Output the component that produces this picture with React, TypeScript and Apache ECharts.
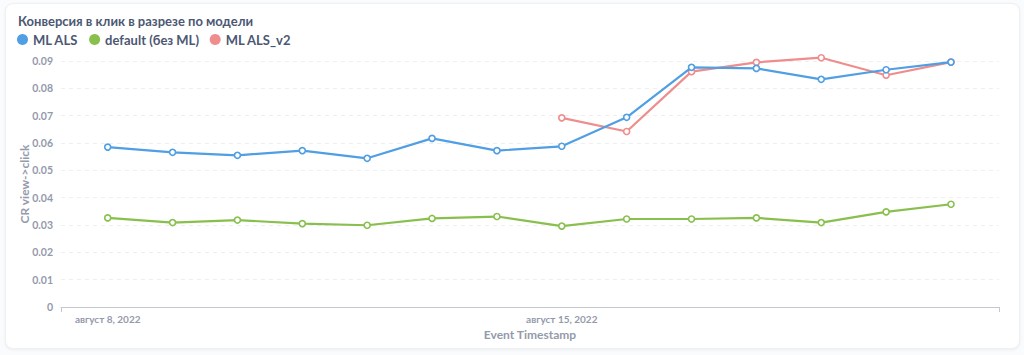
import React, { useEffect, useRef } from "react";
import * as echarts from "echarts";

const dates = [
  "2022-08-08", "2022-08-09", "2022-08-10", "2022-08-11", "2022-08-12", "2022-08-13", "2022-08-14",
  "2022-08-15", "2022-08-16", "2022-08-17", "2022-08-18", "2022-08-19", "2022-08-20", "2022-08-21",
];
const mlAls = [0.0585, 0.0566, 0.0555, 0.0572, 0.0544, 0.0617, 0.0572, 0.0588, 0.0694, 0.0877, 0.0873, 0.0833, 0.0868, 0.0896];
const defaultNoMl = [0.0326, 0.0309, 0.0318, 0.0305, 0.0299, 0.0324, 0.0331, 0.0296, 0.0322, 0.0322, 0.0326, 0.0309, 0.0348, 0.0376];
const mlAlsV2 = [null, null, null, null, null, null, null, 0.0692, 0.0642, 0.0861, 0.0895, 0.0912, 0.0848, 0.0896];
const seriesNames = ["ML ALS", "default (без ML)", "ML ALS_v2"];
const xLabelDates = ["2022-08-08", "2022-08-15"];
const yTicks = [0, 0.01, 0.02, 0.03, 0.04, 0.05, 0.06, 0.07, 0.08, 0.09];
const monthsRu = ["январь", "февраль", "март", "апрель", "май", "июнь", "июль", "август", "сентябрь", "октябрь", "ноябрь", "декабрь"];

const DAY = 86400000;
const ts = (s: string) => {
  const [y, m, d] = s.split("-").map(Number);
  return Date.UTC(y, m - 1, d);
};

export default function App() {
  const ref = useRef<HTMLDivElement>(null);
  useEffect(() => {
    document.body.style.margin = "0";
    if (!ref.current) return;
    const chart = echarts.init(ref.current, undefined, { renderer: "svg" });
    const xMin = ts(dates[0]) - 0.72 * DAY;
    const xMax = ts(dates[dates.length - 1]) + 0.74 * DAY;
    const font = "Lato, 'Noto Sans', sans-serif";
    const mk = (vals: (number | null)[]) => dates.map((d, i) => [ts(d), vals[i]]);
    const colors = ["#509EE3", "#88BF4D", "#EF8C8C"];
    const allSeries = [mlAls, defaultNoMl, mlAlsV2];
    chart.setOption({
      animation: false,
      textStyle: { fontFamily: font },
      title: {
        text: "Конверсия в клик в разрезе по модели",
        left: 13,
        top: 9,
        textStyle: { fontFamily: font, fontSize: 13, fontWeight: "bold", color: "#4C5773" },
      },
      legend: {
        left: 12,
        top: 28,
        itemWidth: 11,
        itemHeight: 11,
        itemGap: 11,
        icon: "circle",
        data: seriesNames.map((n, i) => ({ name: n, itemStyle: { color: colors[i], borderWidth: 0 } })),
        textStyle: { fontFamily: font, fontSize: 13, fontWeight: "bold", color: "#4C5773" },
      },
      grid: { left: 61, right: 25, top: 61, bottom: 48, containLabel: false, outerBoundsMode: "none" },
      xAxis: {
        type: "value",
        min: xMin,
        max: xMax,
        name: "Event Timestamp",
        nameLocation: "middle",
        nameGap: 21,
        nameMoveOverlap: false,
        nameTextStyle: { fontFamily: font, fontSize: 12, fontWeight: "bold", color: "#949AAB" },
        axisLine: { show: true, lineStyle: { color: "#C4C7CF", width: 1 } },
        axisTick: { show: true, customValues: [xMin, xMax], length: 5, lineStyle: { color: "#C4C7CF" } },
        axisLabel: {
          customValues: xLabelDates.map(ts),
          margin: 7,
          fontFamily: font,
          fontSize: 10,
          fontWeight: "bold",
          color: "#949AAB",
          formatter: (v: number) => {
            const d = new Date(v);
            return `${monthsRu[d.getUTCMonth()]} ${d.getUTCDate()}, ${d.getUTCFullYear()}`;
          },
        },
        splitLine: { show: false },
      },
      yAxis: {
        type: "value",
        min: yTicks[0],
        max: yTicks[yTicks.length - 1],
        interval: 0.01,
        name: "CR view->click",
        nameLocation: "middle",
        nameGap: 31,
        nameMoveOverlap: false,
        nameTextStyle: { fontFamily: font, fontSize: 12, fontWeight: "bold", color: "#949AAB" },
        axisLine: { show: false },
        axisTick: { show: false },
        axisLabel: {
          margin: 8,
          fontFamily: font,
          fontSize: 10.5,
          fontWeight: "bold",
          color: "#949AAB",
          formatter: (v: number) => (v === 0 ? "0" : v.toFixed(2)),
        },
        splitLine: { show: true, lineStyle: { color: "#EDEFF1", type: [4, 4], width: 1 } },
      },
      series: allSeries.map((vals, i) => ({
        name: seriesNames[i],
        type: "line",
        data: mk(vals),
        color: colors[i],
        clip: false,
        symbol: "circle",
        symbolSize: 6,
        showSymbol: true,
        connectNulls: false,
        lineStyle: { width: 2.2, color: colors[i] },
        itemStyle: { color: "#ffffff", borderColor: colors[i], borderWidth: 1.6 },
        z: 3 - i,
      })),
    });
    return () => chart.dispose();
  }, []);
  return (
    <div style={{ position: "relative", width: 1024, height: 355, background: "#F9FBFC", overflow: "hidden" }}>
      <div
        style={{
          position: "absolute",
          left: 5,
          top: 3,
          width: 1015,
          height: 346,
          background: "#ffffff",
          borderRadius: 8,
          border: "1px solid #EEF0F3",
          boxSizing: "border-box",
          boxShadow: "0 1px 3px rgba(0,0,0,0.06)",
        }}
      />
      <div ref={ref} style={{ position: "absolute", left: 0, top: 0, width: 1024, height: 355 }} />
    </div>
  );
}
